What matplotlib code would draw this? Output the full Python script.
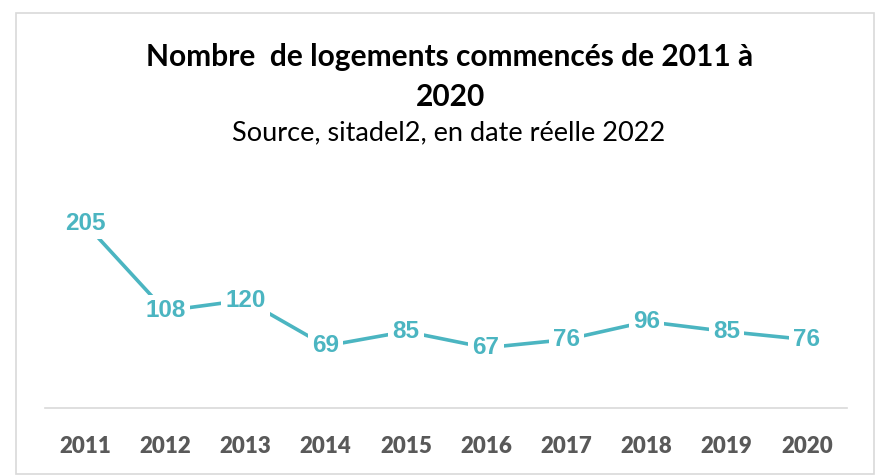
import numpy as np
import matplotlib.pyplot as plt
from matplotlib.patches import Rectangle

years = ["2011", "2012", "2013", "2014", "2015", "2016", "2017", "2018", "2019", "2020"]
logements = [205, 108, 120, 69, 85, 67, 76, 96, 85, 76]

line_col = "#4BB5C1"
W, H = 876, 475

fig = plt.figure(figsize=(W / 100, H / 100), dpi=100)

# light grey chart frame
fig.patches.append(Rectangle((16 / W, 1 - 474 / H), (874 - 16) / W, (474 - 13) / H,
                             transform=fig.transFigure, fill=False,
                             edgecolor="#d9d9d9", linewidth=1.2))

ax = fig.add_axes([45 / W, 1 - 408 / H, (847 - 45) / W, (408 - 183) / H])
x = np.arange(len(years))
ax.plot(x, logements, color=line_col, linewidth=2.6, solid_capstyle="butt")
for xi, v in zip(x, logements):
    ax.text(xi, v, str(v), ha="center", va="center", fontsize=17.5,
            fontweight="bold", family="Liberation Sans", color=line_col,
            bbox=dict(facecolor="white", edgecolor="none", pad=3))

ax.set_xlim(-0.5, len(years) - 0.5)
ax.set_ylim(0, 250)
ax.set_xticks(x)
ax.set_xticklabels(years, fontsize=16, fontweight="heavy", family="Lato", color="#595959")
ax.tick_params(axis="x", length=0, pad=20)
ax.set_yticks([])
for s in ["top", "left", "right"]:
    ax.spines[s].set_visible(False)
ax.spines["bottom"].set_color("#d9d9d9")
ax.spines["bottom"].set_linewidth(1.2)

fig.text(450 / W, 1 - 57 / H, "Nombre  de logements commencés de 2011 à",
         ha="center", va="center", fontsize=21.5, fontweight="bold", family="Lato")
fig.text(450 / W, 1 - 97 / H, "2020",
         ha="center", va="center", fontsize=21.5, fontweight="bold", family="Lato")
fig.text(449 / W, 1 - 133 / H, "Source, sitadel2, en date réelle 2022",
         ha="center", va="center", fontsize=19.5, family="Lato")

fig.savefig("out.png", dpi=100)
